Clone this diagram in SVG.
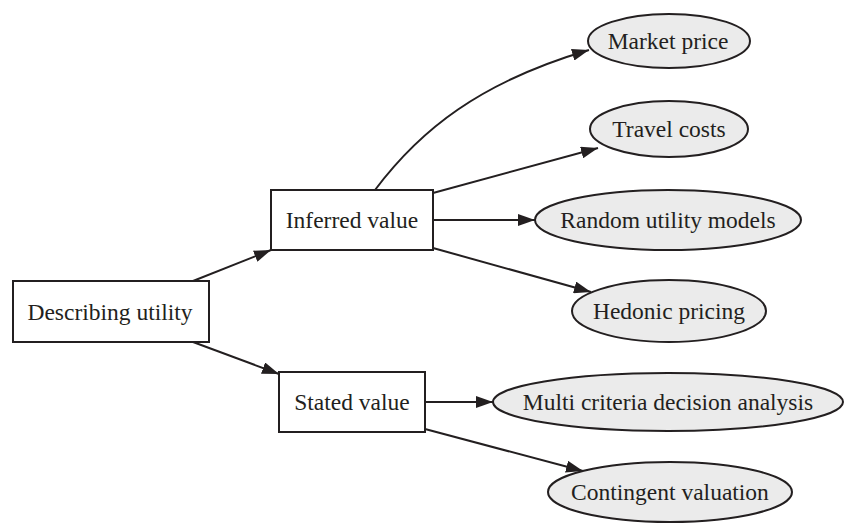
<svg xmlns="http://www.w3.org/2000/svg" width="844" height="523" viewBox="0 0 844 523">
<style>
.box{fill:#fff;stroke:#231f20;stroke-width:2}
.ell{fill:#ebebeb;stroke:#231f20;stroke-width:2}
.t{font-family:"Liberation Serif","Times New Roman",serif;font-size:23.5px;fill:#231f20;text-anchor:middle}
.c{fill:none;stroke:#231f20;stroke-width:2;marker-end:url(#ah)}
</style>
<defs>
<marker id="ah" markerUnits="userSpaceOnUse" markerWidth="18" markerHeight="12" refX="17" refY="6" orient="auto">
<path d="M0,0 L17,6 L0,12 Z" fill="#231f20"/>
</marker>
</defs>
<rect width="844" height="523" fill="#fff"/>
<g id="connectors">
<path class="c" d="M193,281 L271,250"/>
<path class="c" d="M193,342 L279,374"/>
<path class="c" d="M375,190 C420,130 480,82 589,50"/>
<path class="c" d="M433,193 L598,148"/>
<path class="c" d="M433,220 L535,220"/>
<path class="c" d="M433,248 L591,292"/>
<path class="c" d="M425,402 L493,402"/>
<path class="c" d="M425,429 L583,471"/>
</g>
<g id="describing"><rect class="box" x="13" y="281" width="196" height="61"/><text class="t" x="110" y="320">Describing utility</text></g>
<g id="inferred"><rect class="box" x="271" y="190" width="162" height="60"/><text class="t" x="352" y="228">Inferred value</text></g>
<g id="stated"><rect class="box" x="279" y="372" width="146" height="60"/><text class="t" x="352" y="410">Stated value</text></g>
<g id="market"><ellipse class="ell" cx="669" cy="41" rx="81" ry="27"/><text class="t" x="668" y="49">Market price</text></g>
<g id="travel"><ellipse class="ell" cx="669" cy="129" rx="79" ry="28"/><text class="t" x="669" y="137">Travel costs</text></g>
<g id="random"><ellipse class="ell" cx="668" cy="220" rx="133" ry="30"/><text class="t" x="668" y="228">Random utility models</text></g>
<g id="hedonic"><ellipse class="ell" cx="669" cy="311" rx="97" ry="31"/><text class="t" x="669" y="319">Hedonic pricing</text></g>
<g id="mcda"><ellipse class="ell" cx="668" cy="402" rx="175" ry="29"/><text class="t" x="668" y="410">Multi criteria decision analysis</text></g>
<g id="contingent"><ellipse class="ell" cx="670" cy="492" rx="122" ry="30"/><text class="t" x="670" y="500">Contingent valuation</text></g>
</svg>
